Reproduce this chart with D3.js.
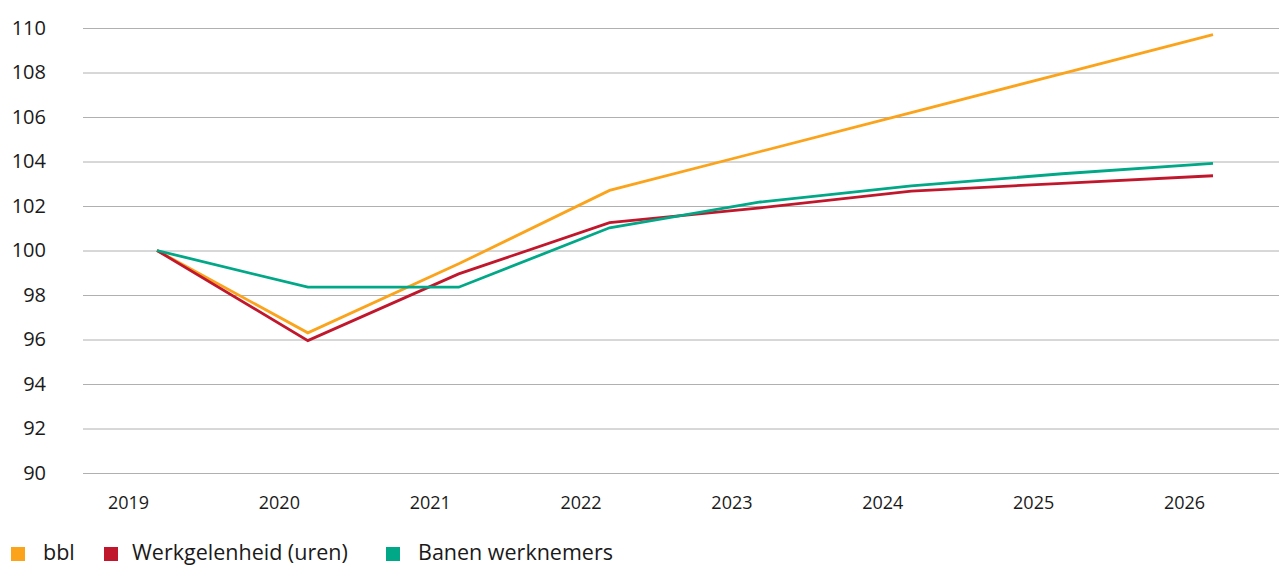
<!DOCTYPE html>
<html>
<head>
<meta charset="utf-8">
<script src="https://cdn.jsdelivr.net/npm/d3@7"></script>
<style>
  body { margin: 0; background: #fff; }
  svg text { font-family: "Open Sans", "Noto Sans", sans-serif; }
</style>
</head>
<body>
<div id="chart"></div>
<script>
// Data
const years = ["2019", "2020", "2021", "2022", "2023", "2024", "2025", "2026"];
const bbl = [100, 96.3, 99.4, 102.7, 104.45, 106.2, 107.95, 109.7];
const werkgelegenheid = [100, 95.95, 98.95, 101.25, 101.92, 102.67, 103.02, 103.36];
const banen = [100, 98.35, 98.35, 101.02, 102.18, 102.9, 103.45, 103.92];
const yTicks = [90, 92, 94, 96, 98, 100, 102, 104, 106, 108, 110];

const seriesNames = ["bbl", "Werkgelenheid (uren)", "Banen werknemers"];
const seriesColors = ["#fba31b", "#c1172c", "#00a887"];
const seriesValues = [bbl, werkgelegenheid, banen];

const W = 1279, H = 565;
const svg = d3.select("#chart").append("svg")
  .attr("width", W)
  .attr("height", H);

const gridLeft = 83, gridRight = 1279;
const x = d3.scalePoint().domain(years).range([157, 1213]);
const y = d3.scaleLinear().domain([90, 110]).range([473, 28]);

// Y axis with gridlines
const yAxis = svg.append("g")
  .attr("transform", `translate(${gridLeft},0)`)
  .call(d3.axisLeft(y).tickValues(yTicks).tickSize(-(gridRight - gridLeft)).tickPadding(37));
yAxis.attr("font-family", null);
yAxis.select(".domain").remove();
yAxis.selectAll("line").attr("stroke", "#b0b0b0").attr("stroke-width", 1);
yAxis.selectAll("text")
  .attr("fill", "#1a1a1a")
  .style("font-size", "20px")
  .attr("dy", "0.3em");

// X axis labels (sit left of the data points)
const xAxis = svg.append("g")
  .attr("transform", "translate(0,473)")
  .call(d3.axisBottom(x).tickSize(0));
xAxis.attr("font-family", null);
xAxis.select(".domain").remove();
xAxis.selectAll("text")
  .attr("fill", "#1a1a1a")
  .style("font-size", "18px")
  .attr("x", -29)
  .attr("y", 36)
  .attr("dy", 0);

// Lines
const line = d3.line()
  .x((d, i) => x(years[i]))
  .y(d => y(d));

svg.selectAll(".series")
  .data(seriesValues)
  .enter()
  .append("path")
  .attr("class", "series")
  .attr("fill", "none")
  .attr("stroke", (d, i) => seriesColors[i])
  .attr("stroke-width", 2.8)
  .attr("stroke-linejoin", "miter")
  .attr("d", line);

// Legend
const legendX = [11, 104, 386];
const legend = svg.append("g");
const items = legend.selectAll("g")
  .data(seriesNames)
  .enter()
  .append("g")
  .attr("transform", (d, i) => `translate(${legendX[i]},0)`);
items.append("rect")
  .attr("x", 0).attr("y", 547)
  .attr("width", 14).attr("height", 14)
  .attr("fill", (d, i) => seriesColors[i]);
items.append("text")
  .attr("x", (d, i) => i === 0 ? 32 : (i === 2 ? 32 : 28))
  .attr("y", 560)
  .attr("fill", "#1a1a1a")
  .style("font-size", "21.5px")
  .text(d => d);
</script>
</body>
</html>
